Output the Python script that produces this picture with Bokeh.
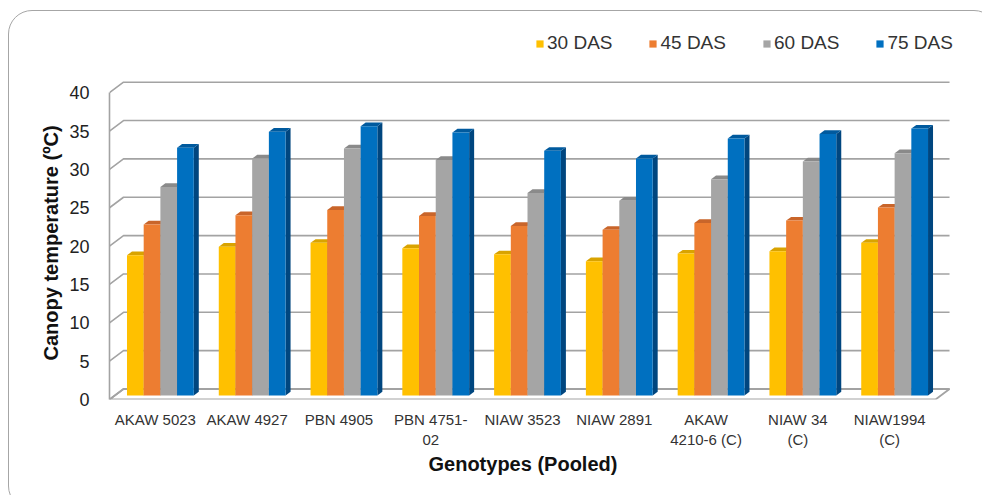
from bokeh.plotting import figure
from bokeh.models import Range1d, FixedTicker, Legend, LegendItem, Title, InlineStyleSheet
from bokeh.embed import file_html
from bokeh.resources import INLINE

# ---- data -------------------------------------------------------------
genotypes = ["AKAW 5023", "AKAW 4927", "PBN 4905", "PBN 4751-\n02", "NIAW 3523",
             "NIAW 2891", "AKAW\n4210-6 (C)", "NIAW 34\n(C)", "NIAW1994\n(C)"]
series_names = ["30 DAS", "45 DAS", "60 DAS", "75 DAS"]
das_30 = [18.3, 19.4, 19.9, 19.2, 18.4, 17.5, 18.5, 18.8, 19.9]
das_45 = [22.3, 23.5, 24.2, 23.4, 22.1, 21.6, 22.5, 22.8, 24.5]
das_60 = [27.2, 30.9, 32.2, 30.7, 26.4, 25.4, 28.2, 30.5, 31.6]
das_75 = [32.3, 34.4, 35.1, 34.3, 31.9, 30.9, 33.5, 34.1, 34.8]
y_ticks = [0, 5, 10, 15, 20, 25, 30, 35, 40]

# ---- styling ----------------------------------------------------------
front_colors = ["#FFC000", "#ED7D31", "#A5A5A5", "#0070C0"]
top_colors = ["#D9A300", "#C9652A", "#8A8A8A", "#005A9E"]
side_colors = ["#B88A00", "#A9531F", "#6E6E6E", "#00467F"]
FONT = "Liberation Sans"
GRID = "#A3A3A3"

W, H = 982, 495
LEFT, RIGHT, TOP, BOTTOM = 109, 22, 20, 96
PX_X = 91.78          # pixels per category
PX_Y = 7.67           # pixels per degree
x_end = -0.5 + (W - LEFT - RIGHT) / PX_X
y_end = (H - TOP - BOTTOM) / PX_Y

# oblique depth of the 3-D box and of the columns
DEPTH_X, DEPTH_Y = 14 / PX_X, 10.5 / PX_Y
BAR_OFF_X, BAR_OFF_Y = 5 / PX_X, 4 / PX_Y
BAR_DX, BAR_DY = 5 / PX_X, 3.7 / PX_Y
BAR_W = 16.7 / PX_X

# rounded chart border drawn around the whole canvas
frame_css = InlineStyleSheet(css="""
:host { position: relative; overflow: hidden; }
:host::after {
  content: ""; position: absolute; left: 8px; top: 10px;
  width: 990px; height: 500px; box-sizing: border-box;
  border: 1.5px solid #A6A6A6; border-radius: 24px; pointer-events: none;
}
""")

n = len(genotypes)
p = figure(width=W, height=H, output_backend="svg", toolbar_location=None,
           x_range=Range1d(-0.5, x_end), y_range=Range1d(0, y_end),
           min_border_left=LEFT, min_border_right=RIGHT,
           min_border_top=TOP, min_border_bottom=BOTTOM)
p.stylesheets = [frame_css]
p.outline_line_color = None
p.xgrid.visible = False
p.ygrid.visible = False
p.background_fill_color = "white"
p.border_fill_color = "white"

# floor
x0, x1 = -0.5, n - 0.5
p.patch([x0, x1, x1 + DEPTH_X, x0 + DEPTH_X], [0, 0, DEPTH_Y, DEPTH_Y],
        fill_color="white", line_color=GRID, line_width=1.8)

# side-wall diagonals and back-wall gridlines
p.multi_line([[x0, x0 + DEPTH_X, x1 + DEPTH_X] for _ in y_ticks],
             [[v, v + DEPTH_Y, v + DEPTH_Y] for v in y_ticks],
             line_color=GRID, line_width=1.6)

# columns
legend_items = []
for s, (name, vals) in enumerate(zip(series_names, [das_30, das_45, das_60, das_75])):
    xc = [i + BAR_OFF_X + (s - 1.5) * BAR_W for i in range(n)]
    xl = [c - BAR_W / 2 for c in xc]
    xr = [c + BAR_W / 2 for c in xc]
    tops = [v + BAR_OFF_Y for v in vals]
    side_xs = [[r, r + BAR_DX, r + BAR_DX, r] for r in xr]
    side_ys = [[BAR_OFF_Y, BAR_OFF_Y + BAR_DY, t + BAR_DY, t] for t in tops]
    p.patches(side_xs, side_ys, fill_color=side_colors[s], line_color=None)
    top_xs = [[l, r, r + BAR_DX, l + BAR_DX] for l, r in zip(xl, xr)]
    top_ys = [[t, t, t + BAR_DY, t + BAR_DY] for t in tops]
    p.patches(top_xs, top_ys, fill_color=top_colors[s], line_color=None)
    r = p.vbar(x=xc, top=tops, bottom=BAR_OFF_Y, width=BAR_W,
               fill_color=front_colors[s], line_color=None)
    legend_items.append(LegendItem(label=name, renderers=[r]))

# axes
p.xaxis.ticker = FixedTicker(ticks=list(range(n)))
p.xaxis.major_label_overrides = {i: g for i, g in enumerate(genotypes)}
p.xaxis.axis_line_color = None
p.xaxis.major_tick_line_color = None
p.xaxis.minor_tick_line_color = None
p.xaxis.major_label_standoff = 5
p.xaxis.major_label_text_font = FONT
p.xaxis.major_label_text_font_size = "15px"
p.xaxis.major_label_text_color = "#333333"

p.yaxis.ticker = FixedTicker(ticks=y_ticks)
p.yaxis.bounds = (0, 40)
p.yaxis.axis_line_color = GRID
p.yaxis.axis_line_width = 1.6
p.yaxis.major_tick_line_color = None
p.yaxis.minor_tick_line_color = None
p.yaxis.major_label_standoff = 14
p.yaxis.major_label_text_font = FONT
p.yaxis.major_label_text_font_size = "18px"
p.yaxis.major_label_text_color = "#222222"

# axis titles, aligned on the floor span and the 0-40 scale
p.add_layout(Title(text="Canopy temperature (ºC)", align="left", offset=39, standoff=10,
                   text_font=FONT, text_font_size="20px", text_font_style="bold",
                   text_color="#111111"), "left")
p.add_layout(Title(text="Genotypes (Pooled)", align="left", offset=319, standoff=0,
                   text_font=FONT, text_font_size="20px", text_font_style="bold",
                   text_color="#111111"), "below")

legend = Legend(items=legend_items, orientation="horizontal", location=(426, 345),
                glyph_width=9, glyph_height=9, label_standoff=3, spacing=36,
                padding=0, margin=0, border_line_color=None, background_fill_alpha=0,
                label_text_font=FONT, label_text_font_size="19px",
                label_text_color="#333333", label_height=22)
p.add_layout(legend)

open("out.html", "w").write(file_html(p, INLINE))
